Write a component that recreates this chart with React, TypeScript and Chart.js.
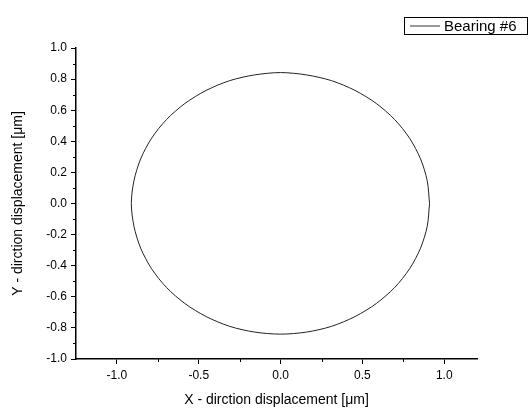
import React, { useEffect, useRef } from "react";
import { Chart, registerables } from "chart.js";

Chart.register(...registerables);

const seriesName = "Bearing #6";
const xValues = [
  0.91, 0.896, 0.855, 0.788, 0.697, 0.585, 0.455, 0.311, 0.158, 0.0,
  -0.158, -0.311, -0.455, -0.585, -0.697, -0.788, -0.855, -0.896, -0.912,
  -0.896, -0.855, -0.788, -0.697, -0.585, -0.455, -0.311, -0.158, 0.0,
  0.158, 0.311, 0.455, 0.585, 0.697, 0.788, 0.855, 0.896, 0.91,
];
const yValues = [
  0.0, 0.146, 0.287, 0.42, 0.54, 0.643, 0.727, 0.79, 0.827, 0.842,
  0.827, 0.79, 0.727, 0.643, 0.54, 0.42, 0.287, 0.146, 0.0,
  -0.146, -0.287, -0.42, -0.54, -0.643, -0.727, -0.79, -0.827, -0.84,
  -0.827, -0.79, -0.727, -0.643, -0.54, -0.42, -0.287, -0.146, 0.0,
];
const xMajorTicks = [-1.0, -0.5, 0.0, 0.5, 1.0];
const xMinorTicks = [-0.75, -0.25, 0.25, 0.75];
const yMajorTicks = [-1.0, -0.8, -0.6, -0.4, -0.2, 0.0, 0.2, 0.4, 0.6, 0.8, 1.0];
const yMinorTicks = [-0.9, -0.7, -0.5, -0.3, -0.1, 0.1, 0.3, 0.5, 0.7, 0.9];
const xTitle = "X - dirction displacement [\u03bcm]";
const yTitle = "Y - dirction displacement [\u03bcm]";

const FONT = "'Liberation Sans', Arial, sans-serif";

const minorTickPlugin = {
  id: "minorTicks",
  afterDraw(chart: any) {
    const ctx = chart.ctx;
    const xs = chart.scales.x;
    const ys = chart.scales.y;
    ctx.save();
    ctx.strokeStyle = "#000";
    ctx.lineWidth = 1;
    ctx.beginPath();
    xMinorTicks.forEach((v) => {
      const px = Math.round(xs.getPixelForValue(v)) + 0.5;
      ctx.moveTo(px, xs.top);
      ctx.lineTo(px, xs.top + 3);
    });
    yMinorTicks.forEach((v) => {
      const py = Math.round(ys.getPixelForValue(v)) + 0.5;
      ctx.moveTo(ys.right, py);
      ctx.lineTo(ys.right - 3, py);
    });
    ctx.stroke();

    // legend box
    const bx = 404.5, by = 17.5, bw = 123, bh = 17;
    ctx.fillStyle = "#fff";
    ctx.fillRect(bx, by, bw, bh);
    ctx.strokeStyle = "#000";
    ctx.lineWidth = 1;
    ctx.strokeRect(bx, by, bw, bh);
    ctx.strokeStyle = "#333";
    ctx.beginPath();
    ctx.moveTo(410, by + bh / 2);
    ctx.lineTo(440, by + bh / 2);
    ctx.stroke();
    ctx.fillStyle = "#000";
    ctx.font = "15px " + FONT;
    ctx.textBaseline = "middle";
    ctx.textAlign = "left";
    ctx.fillText(seriesName, 444, by + bh / 2 + 1);
    ctx.restore();
  },
};

export default function App() {
  const canvasRef = useRef<HTMLCanvasElement | null>(null);

  useEffect(() => {
    if (!canvasRef.current) return;
    const points = xValues.map((x, i) => ({ x, y: yValues[i] }));
    const chart = new Chart(canvasRef.current, {
      type: "scatter",
      data: {
        datasets: [
          {
            label: seriesName,
            data: points,
            showLine: true,
            borderColor: "#222",
            borderWidth: 1,
            pointRadius: 0,
            tension: 0.3,
            fill: false,
          },
        ],
      },
      options: {
        animation: false,
        responsive: false,
        maintainAspectRatio: false,
        layout: { padding: { top: 48, right: 55, left: 0, bottom: 0 } },
        plugins: { legend: { display: false }, tooltip: { enabled: false } },
        scales: {
          x: {
            type: "linear",
            min: -1.25,
            max: 1.2,
            afterBuildTicks: (s: any) => {
              s.ticks = xMajorTicks.map((v) => ({ value: v }));
            },
            afterFit: (s: any) => {
              s.height = 50;
            },
            grid: { drawOnChartArea: false, color: "#000", tickLength: 5, lineWidth: 1 },
            border: { display: true, color: "#000", width: 1.5 },
            ticks: {
              color: "#000",
              font: { size: 12, family: FONT },
              padding: 4,
              maxRotation: 0,
              autoSkip: false,
              callback: (v: any) => Number(v).toFixed(1),
            },
            title: {
              display: true,
              text: xTitle,
              color: "#000",
              font: { size: 14, family: FONT },
              padding: { top: 4, bottom: 0 },
            },
          },
          y: {
            type: "linear",
            min: -1,
            max: 1,
            afterBuildTicks: (s: any) => {
              s.ticks = yMajorTicks.map((v) => ({ value: v }));
            },
            afterFit: (s: any) => {
              s.width = 76;
            },
            grid: { drawOnChartArea: false, color: "#000", tickLength: 5, lineWidth: 1 },
            border: { display: true, color: "#000", width: 1.5 },
            ticks: {
              color: "#000",
              font: { size: 12, family: FONT },
              padding: 4,
              autoSkip: false,
              callback: (v: any) => Number(v).toFixed(1),
            },
            title: {
              display: true,
              text: yTitle,
              color: "#000",
              font: { size: 14, family: FONT },
              padding: { top: 10, bottom: 0 },
            },
          },
        },
      },
      plugins: [minorTickPlugin],
    });
    return () => chart.destroy();
  }, []);

  return (
    <div style={{ position: "fixed", left: 0, top: 0, width: 532, height: 409, background: "#fff" }}>
      <canvas ref={canvasRef} width={532} height={409} style={{ width: 532, height: 409, display: "block" }} />
    </div>
  );
}
